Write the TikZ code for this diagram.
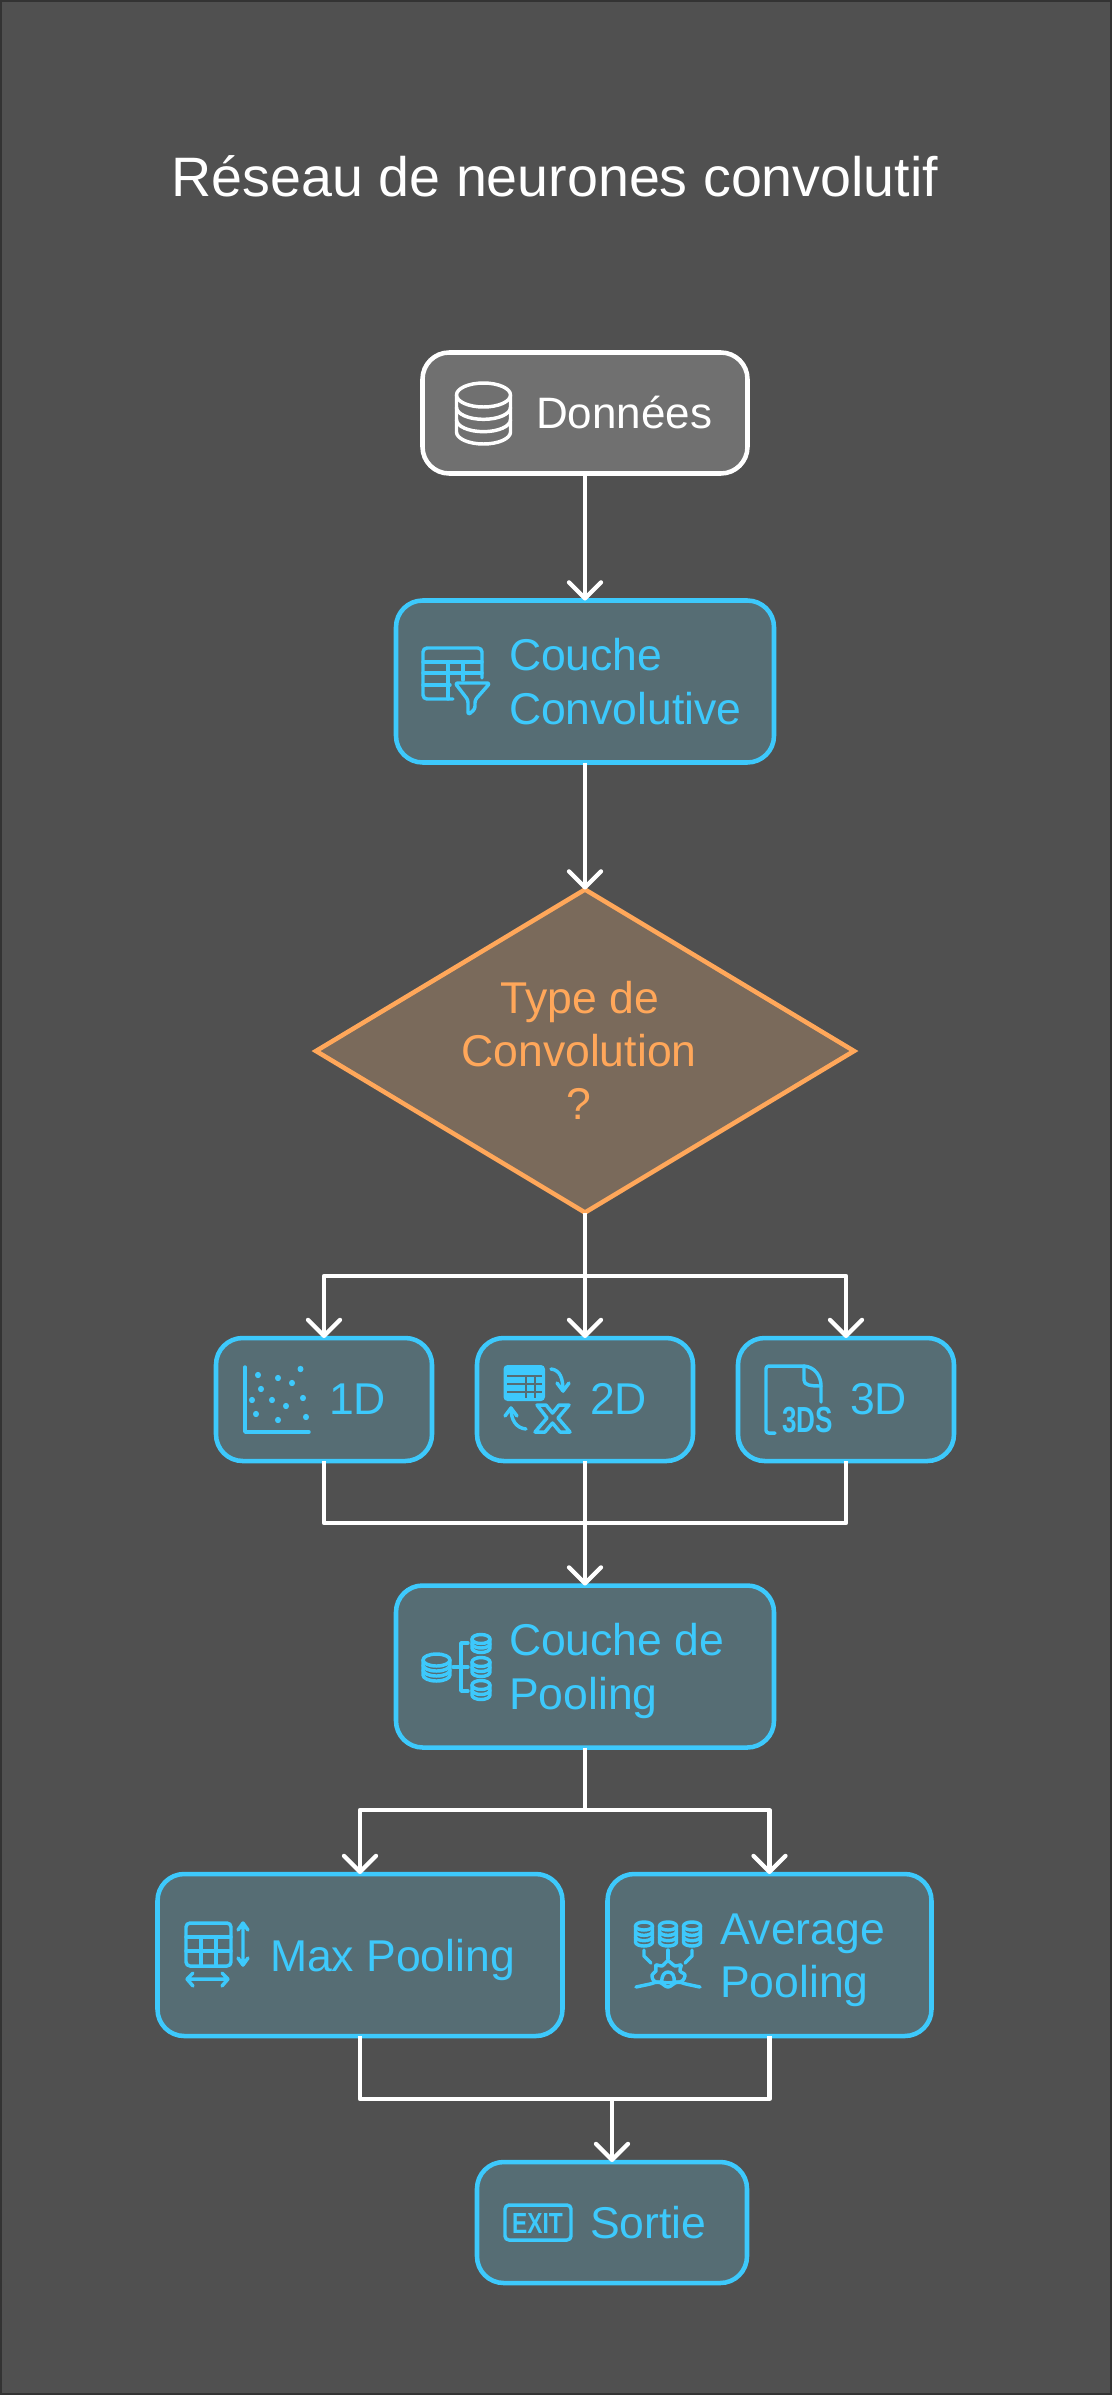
\documentclass[tikz,border=0pt]{standalone}
\usepackage{fontspec}
\setmainfont{Liberation Sans}
\usetikzlibrary{arrows.meta,shapes.geometric,calc}
\definecolor{bg}{HTML}{505050}
\definecolor{edgec}{HTML}{333333}
\definecolor{blu}{HTML}{3DC9FC}
\definecolor{blufill}{HTML}{566D74}
\definecolor{orng}{HTML}{FFA75A}
\definecolor{orfill}{HTML}{7A6A5B}
\definecolor{grfill}{HTML}{707070}
\newcommand\dbic[7][]{%
 \draw[ic,#1] (#2,#3) ellipse[x radius=#4,y radius=#5];
 \draw[ic,#1] (#2-#4,#3) -- (#2-#4,#6) arc[start angle=180,end angle=0,x radius=#4,y radius=#5] -- (#2+#4,#3);
 \foreach \i in {1,...,#7} \draw[ic,#1] ({#2-#4},{#3+\i*(#6-#3)/(#7+1)}) arc[start angle=180,end angle=0,x radius=#4,y radius=#5];
}
\newcommand\bigf{\fontsize{33.4}{40}\selectfont}
\tikzset{
 boxbase/.style={draw,rectangle,rounded corners=20pt,line width=3.4pt,inner sep=0pt,outer sep=0pt},
 bluebox/.style={boxbase,draw=blu,fill=blufill},
 greybox/.style={boxbase,draw=white,fill=grfill},
 lbl/.style={anchor=base west,inner sep=0pt,outer sep=0pt,text=blu},
 conn/.style={draw=white,line width=3.2pt,line join=round},
 arr/.style={conn,-{Straight Barb[length=12pt,width=24pt,line width=3.2pt,round]}},
 ic/.style={draw=blu,line width=2.6pt,line cap=round,line join=round},
 dotc/.style={fill=blu,draw=none},
}
\begin{document}
\begin{tikzpicture}[x=0.75pt,y=-0.75pt]
\useasboundingbox (0,0) rectangle (1112,2395);
\draw[draw=edgec,fill=bg,line width=1.5pt] (1,1) rectangle (1111,2394);
\node[lbl,text=white,anchor=base] (title) at (555,196) {\fontsize{41.7}{48}\selectfont Réseau de neurones convolutif};
% boxes
\node[greybox,minimum width=325*.75pt,minimum height=121*.75pt] (data) at (585,413) {};
\node[bluebox,minimum width=378*.75pt,minimum height=162*.75pt] (conv) at (585,681.5) {};
\node[diamond,draw=orng,fill=orfill,line width=3.4pt,inner sep=0pt,outer sep=0pt,minimum width=538*.75pt,minimum height=323*.75pt] (dec) at (585,1051) {};
\node[bluebox,minimum width=216*.75pt,minimum height=123*.75pt] (d1) at (324,1399.5) {};
\node[bluebox,minimum width=216*.75pt,minimum height=123*.75pt] (d2) at (585,1399.5) {};
\node[bluebox,minimum width=216*.75pt,minimum height=123*.75pt] (d3) at (846,1399.5) {};
\node[bluebox,minimum width=378*.75pt,minimum height=162*.75pt] (pool) at (585,1666.5) {};
\node[bluebox,minimum width=405*.75pt,minimum height=162*.75pt] (maxp) at (360,1955) {};
\node[bluebox,minimum width=324*.75pt,minimum height=162*.75pt] (avgp) at (769.5,1955) {};
\node[bluebox,minimum width=270*.75pt,minimum height=121*.75pt] (out) at (612,2222.5) {};
% connectors
\coordinate (split1) at (585,1276);
\coordinate (merge1) at (585,1523);
\coordinate (split2) at (585,1810);
\coordinate (merge2) at (612,2099);
\draw[arr] (data.south) -- (conv.north);
\draw[arr] (conv.south) -- (dec.north);
\draw[conn] (dec.south) -- (split1);
\draw[arr] (split1) -| (d1.north);
\draw[arr] (split1) -- (d2.north);
\draw[arr] (split1) -| (d3.north);
\draw[conn] (d1.south) |- (merge1);
\draw[conn] (d3.south) |- (merge1);
\draw[arr] (d2.south) -- (pool.north);
\draw[conn] (pool.south) -- (split2);
\draw[arr] (split2) -| (maxp.north);
\draw[arr] (split2) -| (avgp.north);
\draw[conn] (maxp.south) |- (merge2);
\draw[conn] (avgp.south) |- (merge2);
\draw[arr] (merge2) -- (out.north);
% labels
\node[lbl,text=white] (tdata) at (536,428) {\fontsize{33}{40}\selectfont Données};
\node[lbl] (tconv1) at (509,670) {\bigf Couche};
\node[lbl] (tconv2) at (509,724) {\bigf Convolutive};
\node[lbl,text=orng,anchor=base] (tdec1) at (580,1013.5) {\bigf Type de};
\node[lbl,text=orng,anchor=base] (tdec2) at (579,1066.5) {\bigf Convolution};
\node[lbl,text=orng,anchor=base] (tdec3) at (579,1119.5) {\bigf ?};
\node[lbl] (t1) at (329,1414) {\bigf 1D};
\node[lbl] (t2) at (590,1414) {\bigf 2D};
\node[lbl] (t3) at (850,1414) {\bigf 3D};
\node[lbl] (tp1) at (509,1655) {\bigf Couche de};
\node[lbl] (tp2) at (509,1709) {\bigf Pooling};
\node[lbl] (tmax) at (270,1971) {\bigf Max Pooling};
\node[lbl] (tavg1) at (720,1944) {\bigf Average};
\node[lbl] (tavg2) at (720,1997) {\bigf Pooling};
\node[lbl] (tout) at (590,2238) {\bigf Sortie};
% icon: data
\dbic[draw=white]{483.5}{395}{27}{12}{432}{2}
% icon: table + funnel
\draw[ic,rounded corners=3pt] (482,678) -- (482,648) -- (423,648) -- (423,699) -- (453,699);
\draw[ic] (423,662) -- (482,662) (423,673) -- (482,673) (423,685) -- (450,685) (448,662) -- (448,699) (463,662) -- (463,680);
\draw[ic,rounded corners=2pt,fill=blufill] (455,683) -- (490,683) -- (475,700) -- (475,709) -- (468,715) -- (468,700) -- cycle;
% icon: 1D
\draw[ic] (245,1367) -- (245,1432) -- (309,1432);
\foreach \px/\py in {258/1375,278/1378,300.5/1369,292/1383,261/1389,303/1398,252/1400,272/1400,286/1406,256/1414,306/1417,278/1420}
  \fill[dotc] (\px,\py) ellipse[x radius=3,y radius=3.2];
% icon: 2D
\fill[blu,rounded corners=3pt] (503.5,1365) rectangle (545,1401);
\draw[blufill,line width=1.3pt] (507,1376) -- (542,1376) (507,1384) -- (542,1384) (507,1392) -- (542,1392) (526,1376) -- (526,1398) (535,1376) -- (535,1398);
\draw[ic] (551,1369) .. controls (560,1370) and (563,1378) .. (563,1391);
\draw[ic] (557,1383) -- (563,1391) -- (569,1383);
\draw[ic] (526,1429) .. controls (516,1428) and (511,1420) .. (511,1408);
\draw[ic] (505,1416) -- (511,1408) -- (517,1416);
\draw[ic] (537,1405) -- (546,1405) -- (552.5,1413) -- (559,1405) -- (569,1405) -- (558,1418) -- (570,1432) -- (560,1432) -- (552.5,1423) -- (545,1432) -- (535,1432) -- (547,1418) -- cycle;
% icon: 3D
\draw[ic,rounded corners=2pt] (775,1433) -- (766,1433) -- (766,1366) -- (804,1366);
\draw[ic] (804,1366) .. controls (815,1367) and (821,1376) .. (821,1386) -- (821,1402);
\draw[ic] (804,1366) -- (804,1380) .. controls (804,1385) and (810,1386) .. (821,1386);
\node[inner sep=0pt,text=blu] (ic3ds) at (807.5,1420) {\resizebox{38pt}{19pt}{\bfseries 3DS}};
% icon: pooling
\dbic{436.5}{1660}{13.5}{6}{1675}{2}
\dbic{481}{1639}{9}{4.5}{1648}{1}
\dbic{481}{1662}{9}{4.5}{1672}{1}
\dbic{481}{1685}{9}{4.5}{1695}{1}
\draw[ic] (468,1643) -- (461,1643) -- (461,1691) -- (468,1691) (453,1667) -- (468,1667);
% icon: max
\draw[ic,rounded corners=3pt] (186,1923) rectangle (231,1966);
\draw[ic] (186,1937) -- (231,1937) (186,1951) -- (231,1951) (201,1937) -- (201,1966) (216,1937) -- (216,1966);
\draw[ic] (243,1923) -- (243,1965) (238,1930) -- (243,1923) -- (248,1930) (238,1958) -- (243,1965) -- (248,1958);
\draw[ic] (187,1979) -- (228,1979) (193,1973) -- (187,1979) -- (193,1986) (222,1973) -- (228,1979) -- (222,1986);
% icon: average
\foreach \cx in {644,668,692} {\dbic{\cx}{1926}{8.5}{4}{1942}{2}}
\draw[ic] (668,1950) -- (668,1959);
\draw[ic] (644,1950) -- (644,1956) -- (651,1963);
\draw[ic] (692,1950) -- (692,1956) -- (685,1963);
\draw[ic] plot[smooth cycle,tension=.5] coordinates {(656,1982) (652,1975) (656,1971) (656,1965) (662,1966) (668,1961) (675,1966) (681,1965) (680,1971) (685,1975) (680,1982)};
\draw[ic] (662,1983) .. controls (661,1975) and (665,1972) .. (668,1972) .. controls (672,1972) and (675,1975) .. (674,1983);
\draw[ic] plot[smooth,tension=.6] coordinates {(636,1987) (650,1984) (659,1982) (668,1987) (677,1982) (686,1984) (700,1987)};
% icon: exit
\draw[ic,rounded corners=3pt] (505,2205) rectangle (571,2240);
\node[inner sep=0pt,text=blu] (icexit) at (537.5,2223) {\resizebox{38pt}{15pt}{\bfseries EXIT}};
\end{tikzpicture}
\end{document}
